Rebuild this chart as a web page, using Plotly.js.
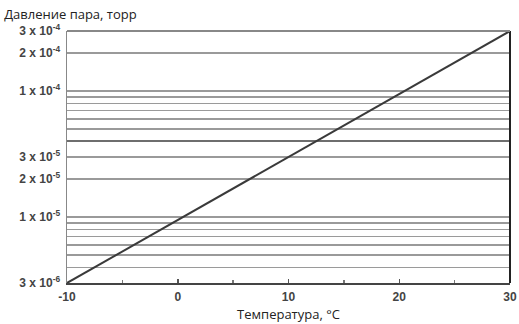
<!DOCTYPE html>
<html>
<head>
<meta charset="utf-8">
<script src="https://cdn.plot.ly/plotly-3.0.1.min.js"></script>
<style>
  html, body { margin: 0; padding: 0; background: #fff; }
  #chart { width: 519px; height: 324px; }
</style>
</head>
<body>
<div id="chart"></div>
<script>
// Vapour pressure curve: temperature (°C) vs pressure (torr)
const temperature = [-10, 0, 10, 20, 30];
const pressure = [3e-6, 9.5e-6, 3e-5, 9.5e-5, 3e-4];

// Horizontal grid values and their labels (blank = unlabelled line)
const gridValues = [3e-6, 4e-6, 5e-6, 6e-6, 7e-6, 8e-6, 9e-6, 1e-5, 2e-5, 3e-5,
                    4e-5, 5e-5, 6e-5, 7e-5, 8e-5, 9e-5, 1e-4, 2e-4, 3e-4];
const gridLabels = ['3 x 10<sup>-6</sup>', '', '', '', '', '', '', '1 x 10<sup>-5</sup>',
                    '2 x 10<sup>-5</sup>', '3 x 10<sup>-5</sup>', '', '', '', '', '', '',
                    '1 x 10<sup>-4</sup>', '2 x 10<sup>-4</sup>', '3 x 10<sup>-4</sup>'];
const strongGrid = [4e-5];

const xTicks = [-10, 0, 10, 20, 30];

const yRange = [Math.log10(pressure[0]), Math.log10(pressure[pressure.length - 1])];

const traces = [{
  x: temperature,
  y: pressure,
  type: 'scatter',
  mode: 'lines',
  line: { color: '#3a3a3a', width: 2 },
  hoverinfo: 'skip',
  showlegend: false
}];

const tickFont = { size: 12, color: '#444', family: 'Liberation Sans, Arial, sans-serif', weight: 'bold' };

const layout = {
  width: 519,
  height: 324,
  margin: { l: 67, r: 9, t: 31, b: 41 },
  paper_bgcolor: '#ffffff',
  plot_bgcolor: '#ffffff',
  font: { family: 'Liberation Sans, Arial, sans-serif', color: '#333' },
  title: {
    text: 'Давление пара, торр',
    x: 0.008, xanchor: 'left', xref: 'container',
    y: 0.955, yanchor: 'middle', yref: 'container',
    font: { family: 'Open Sans, Noto Sans, sans-serif', size: 13, color: '#222' }
  },
  xaxis: {
    range: [temperature[0], temperature[temperature.length - 1]],
    tickvals: xTicks,
    ticktext: xTicks.map(String),
    ticks: 'inside',
    ticklen: 4,
    tickwidth: 1.5,
    tickcolor: '#555',
    minor: { dtick: 5, tick0: -10, ticks: 'inside', ticklen: 3, tickcolor: '#777', showgrid: false },
    showgrid: false,
    zeroline: false,
    showline: true,
    linecolor: '#444',
    linewidth: 2,
    tickfont: tickFont,
    ticklabelstandoff: 2,
    title: {
      text: 'Температура, °C',
      font: { family: 'Open Sans, Noto Sans, sans-serif', size: 13, color: '#222' },
      standoff: 6
    }
  },
  yaxis: {
    type: 'log',
    range: yRange,
    tickvals: gridValues,
    ticktext: gridLabels,
    ticks: '',
    showgrid: true,
    gridcolor: '#9a9a9a',
    gridwidth: 1.5,
    zeroline: false,
    showline: true,
    linecolor: '#888',
    linewidth: 1.5,
    ticklabelstandoff: 3,
    tickfont: tickFont
  },
  yaxis2: {
    type: 'log',
    range: yRange,
    overlaying: 'y',
    tickvals: strongGrid,
    showticklabels: false,
    ticks: '',
    showgrid: true,
    gridcolor: '#6e6e6e',
    gridwidth: 2,
    zeroline: false,
    showline: false
  },
  shapes: [
    // right-hand border
    { type: 'line', xref: 'paper', yref: 'paper', x0: 1, x1: 1, y0: 0, y1: 1,
      line: { color: '#222', width: 2 } },
    // top border
    { type: 'line', xref: 'paper', yref: 'paper', x0: 0, x1: 1, y0: 1, y1: 1,
      line: { color: '#888', width: 2 } }
  ]
};

// an empty trace so the second grid axis is drawn
traces.push({ x: [], y: [], yaxis: 'y2', type: 'scatter', showlegend: false, hoverinfo: 'skip' });

Plotly.newPlot('chart', traces, layout, { staticPlot: true, displayModeBar: false });
</script>
</body>
</html>
